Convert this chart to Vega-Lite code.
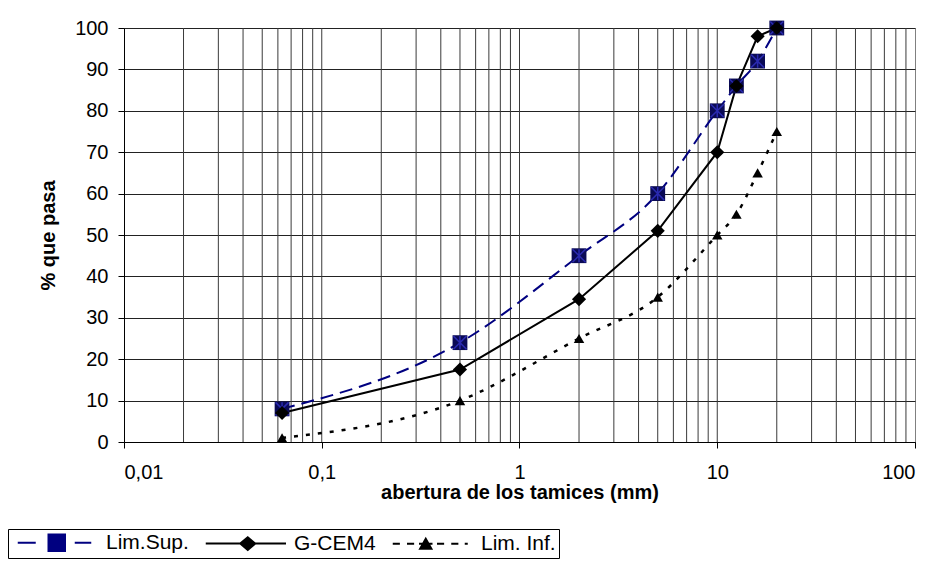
{
  "$schema": "https://vega.github.io/schema/vega-lite/v6.json",
  "width": 791,
  "height": 414,
  "autosize": {"type": "none"},
  "padding": {"left": 124, "top": 28, "right": 28, "bottom": 122},
  "background": "white",
  "config": {
    "font": "Liberation Sans",
    "view": {"stroke": "#808080", "strokeWidth": 1},
    "axis": {
      "labelFont": "Liberation Sans", "labelFontSize": 20, "labelColor": "black",
      "titleFont": "Liberation Sans", "titleFontSize": 20, "titleFontWeight": "bold", "titleColor": "black",
      "domainColor": "black", "tickColor": "black", "tickSize": 6
    }
  },
  "datasets": {
    "pts": [
      {"series": "Lim.Sup.", "d": 0.063, "p": 8},
      {"series": "Lim.Sup.", "d": 0.5, "p": 24},
      {"series": "Lim.Sup.", "d": 2, "p": 45},
      {"series": "Lim.Sup.", "d": 5, "p": 60},
      {"series": "Lim.Sup.", "d": 10, "p": 80},
      {"series": "Lim.Sup.", "d": 12.5, "p": 86},
      {"series": "Lim.Sup.", "d": 16, "p": 92},
      {"series": "Lim.Sup.", "d": 20, "p": 100},
      {"series": "G-CEM4", "d": 0.063, "p": 7},
      {"series": "G-CEM4", "d": 0.5, "p": 17.5},
      {"series": "G-CEM4", "d": 2, "p": 34.5},
      {"series": "G-CEM4", "d": 5, "p": 51},
      {"series": "G-CEM4", "d": 10, "p": 70},
      {"series": "G-CEM4", "d": 12.5, "p": 86},
      {"series": "G-CEM4", "d": 16, "p": 98},
      {"series": "G-CEM4", "d": 20, "p": 100},
      {"series": "Lim. Inf.", "d": 0.063, "p": 1},
      {"series": "Lim. Inf.", "d": 0.5, "p": 10},
      {"series": "Lim. Inf.", "d": 2, "p": 25},
      {"series": "Lim. Inf.", "d": 5, "p": 35},
      {"series": "Lim. Inf.", "d": 10, "p": 50},
      {"series": "Lim. Inf.", "d": 12.5, "p": 55},
      {"series": "Lim. Inf.", "d": 16, "p": 65},
      {"series": "Lim. Inf.", "d": 20, "p": 75}
    ],
    "grid": [
      {"v": 0.02}, {"v": 0.03}, {"v": 0.04}, {"v": 0.05}, {"v": 0.06}, {"v": 0.07}, {"v": 0.08}, {"v": 0.09},
      {"v": 0.1}, {"v": 0.2}, {"v": 0.3}, {"v": 0.4}, {"v": 0.5}, {"v": 0.6}, {"v": 0.7}, {"v": 0.8}, {"v": 0.9},
      {"v": 1}, {"v": 2}, {"v": 3}, {"v": 4}, {"v": 5}, {"v": 6}, {"v": 7}, {"v": 8}, {"v": 9},
      {"v": 10}, {"v": 20}, {"v": 30}, {"v": 40}, {"v": 50}, {"v": 60}, {"v": 70}, {"v": 80}, {"v": 90}
    ]
  },
  "layer": [
    {
      "data": {"name": "grid"},
      "mark": {"type": "rule", "color": "#3a3a3a", "strokeWidth": 1},
      "encoding": {
        "x": {"field": "v", "type": "quantitative",
          "scale": {"type": "log", "domain": [0.01, 100], "nice": false},
          "axis": {"title": "abertura de los tamices (mm)", "values": [0.01, 0.1, 1, 10, 100], "format": "~g", "labelExpr": "replace(datum.label, '.', ',')", "grid": false, "labelPadding": 14, "titleY": 40, "titleBaseline": "top"}}
      }
    },
    {
      "data": {"name": "pts"},
      "transform": [{"filter": "datum.series === 'Lim.Sup.'"}],
      "mark": {"type": "line", "color": "#000080", "strokeDash": [13, 7], "strokeWidth": 2, "interpolate": "monotone"},
      "encoding": {
        "x": {"field": "d", "type": "quantitative",
          "scale": {"type": "log", "domain": [0.01, 100], "nice": false},
          "axis": {"title": "abertura de los tamices (mm)", "values": [0.01, 0.1, 1, 10, 100], "format": "~g", "labelExpr": "replace(datum.label, '.', ',')", "grid": false, "labelPadding": 14, "titleY": 40, "titleBaseline": "top"}},
        "y": {"field": "p", "type": "quantitative",
          "scale": {"domain": [0, 100], "nice": false},
          "axis": {"title": "% que pasa", "values": [0, 10, 20, 30, 40, 50, 60, 70, 80, 90, 100], "grid": true, "gridColor": "#222222", "gridOpacity": 1, "labelPadding": 10, "titlePadding": 16}}
      }
    },
    {
      "data": {"name": "pts"},
      "transform": [{"filter": "datum.series === 'Lim. Inf.'"}],
      "mark": {"type": "line", "color": "black", "strokeDash": [4, 8], "strokeWidth": 2.5, "interpolate": "monotone"},
      "encoding": {
        "x": {"field": "d", "type": "quantitative"},
        "y": {"field": "p", "type": "quantitative"}
      }
    },
    {
      "data": {"name": "pts"},
      "transform": [{"filter": "datum.series === 'G-CEM4'"}],
      "mark": {"type": "line", "color": "black", "strokeWidth": 2},
      "encoding": {
        "x": {"field": "d", "type": "quantitative"},
        "y": {"field": "p", "type": "quantitative"}
      }
    },
    {
      "data": {"name": "pts"},
      "transform": [{"filter": "datum.series === 'Lim.Sup.'"}],
      "mark": {"type": "point", "shape": "square", "filled": true, "color": "#0a0a55", "size": 220, "opacity": 1},
      "encoding": {
        "x": {"field": "d", "type": "quantitative"},
        "y": {"field": "p", "type": "quantitative"}
      }
    },
    {
      "data": {"name": "pts"},
      "transform": [{"filter": "datum.series === 'Lim.Sup.'"}],
      "mark": {"type": "point", "shape": "M-1,-1L1,1M1,-1L-1,1M0,-1L0,1", "filled": false, "color": "#2a2ab0", "size": 170, "strokeWidth": 1.5, "opacity": 1},
      "encoding": {
        "x": {"field": "d", "type": "quantitative"},
        "y": {"field": "p", "type": "quantitative"}
      }
    },
    {
      "data": {"name": "pts"},
      "transform": [{"filter": "datum.series === 'G-CEM4'"}],
      "mark": {"type": "point", "shape": "diamond", "filled": true, "color": "black", "size": 200, "opacity": 1},
      "encoding": {
        "x": {"field": "d", "type": "quantitative"},
        "y": {"field": "p", "type": "quantitative"}
      }
    },
    {
      "data": {"name": "pts"},
      "transform": [{"filter": "datum.series === 'Lim. Inf.'"}],
      "mark": {"type": "point", "shape": "triangle-up", "filled": true, "color": "black", "size": 110, "opacity": 1},
      "encoding": {
        "x": {"field": "d", "type": "quantitative"},
        "y": {"field": "p", "type": "quantitative"}
      }
    },
    {
      "data": {"name": "pts"},
      "transform": [{"filter": "false"}],
      "mark": {"type": "point", "filled": true, "strokeWidth": 2, "opacity": 1},
      "encoding": {
        "x": {"field": "d", "type": "quantitative"},
        "y": {"field": "p", "type": "quantitative"},
        "color": {"field": "series", "type": "nominal",
          "scale": {"domain": ["Lim.Sup.", "G-CEM4", "Lim. Inf."], "range": ["#000080", "#000000", "#000000"]},
          "legend": {"title": null, "orient": "none", "legendX": -116, "legendY": 501, "direction": "horizontal",
            "symbolSize": 225, "labelFontSize": 21, "labelFont": "Liberation Sans", "labelColor": "black",
            "strokeColor": "black", "fillColor": "white", "padding": 3, "columnPadding": 10, "labelOffset": 74,
            "symbolStrokeWidth": 2, "symbolOpacity": 1,
            "encode": {"symbols": {"update": {"stroke": {"scale": "color", "field": "value"}, "fill": {"scale": "color", "field": "value"}, "strokeWidth": {"value": 2}}}}}},
        "shape": {"field": "series", "type": "nominal",
          "scale": {"domain": ["Lim.Sup.", "G-CEM4", "Lim. Inf."], "range": [
            "M-0.5,0H1.9M7.1,0H9.3M3.6,-1.1H5.8V1.1H3.6Z",
            "M-0.5,0H10.2M4.1,0L5.1,-0.85L6.1,0L5.1,0.85Z",
            "M-0.5,0H0.45M1.4,0H2.35M3,0H4.8M3.15,0.65L3.9,-0.65L4.65,0.65ZM5.4,0H6.35M7.3,0H8.25M9.1,0H9.5"
          ]},
          "legend": {"title": null, "orient": "none", "legendX": -116, "legendY": 501, "direction": "horizontal",
            "symbolSize": 225, "labelFontSize": 21, "labelFont": "Liberation Sans", "labelColor": "black",
            "strokeColor": "black", "fillColor": "white", "padding": 3, "columnPadding": 10, "labelOffset": 74,
            "symbolStrokeWidth": 2, "symbolOpacity": 1}}
      }
    }
  ]
}
